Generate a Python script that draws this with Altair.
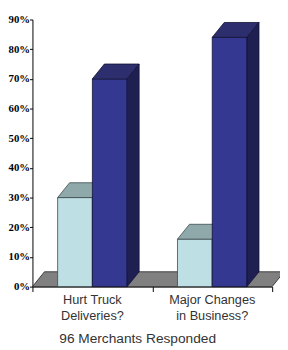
import altair as alt
import pandas as pd

categories = ["Hurt Truck\nDeliveries?", "Major Changes\nin Business?"]
series = ["light", "dark"]
light_values = [30, 16]
dark_values = [70, 84]
y_ticks = [0, 10, 20, 30, 40, 50, 60, 70, 80, 90]

BAR_W = 0.29
DX = 0.1
DY = 5

front, top, side = [], [], []
for i, cat in enumerate(categories):
    center = i + 0.5
    for s, vals in ((0, light_values), (1, dark_values)):
        v = vals[i]
        x0 = center + (s - 1) * BAR_W
        x1 = x0 + BAR_W
        key = f"{i}-{s}"
        ser = series[s]
        front.append(dict(id=key, series=ser, x=x0, x2=x1, y=0, y2=v))
        top.append(dict(id=key, series=ser, y=v, x=x0, x2=x1))
        top.append(dict(id=key, series=ser, y=v + DY, x=x0 + DX, x2=x1 + DX))
        side.append(dict(id=key, series=ser, x=x1, y=0, y2=v))
        side.append(dict(id=key, series=ser, x=x1 + DX, y=DY, y2=v + DY))

front_df = pd.DataFrame(front)
top_df = pd.DataFrame(top)
side_df = pd.DataFrame(side)
floor_df = pd.DataFrame([
    dict(y=0, x=0, x2=len(categories)),
    dict(y=DY, x=DX, x2=len(categories) + DX),
])
label_df = pd.DataFrame({"x": [i + 0.5 for i in range(len(categories))], "label": categories})

xs = alt.Scale(domain=[0, len(categories)], nice=False, zero=False)
ys = alt.Scale(domain=[0, 90], nice=False)

front_col = alt.Scale(domain=series, range=["#bee0e4", "#343890"])
top_col = alt.Scale(domain=series, range=["#8fa9aa", "#2d2e6e"])
side_col = alt.Scale(domain=series, range=["#7c9799", "#1f1f52"])
stroke_col = alt.Scale(domain=series, range=["#3a4a4c", "#111133"])

xaxis = alt.Axis(values=[0, 1, 2], labels=False, title=None, grid=False,
                 domainColor="black", tickColor="black", tickSize=5, domainWidth=1)
yaxis = alt.Axis(values=y_ticks, labelExpr="datum.value + '%'", title=None, grid=False,
                 domainColor="black", tickColor="black", tickSize=3, labelPadding=0,
                 labelOverlap=False, labelFlush=False,
                 labelFont="Liberation Sans Narrow", labelFontWeight="bold",
                 labelFontSize=11, labelColor="black")

X = lambda f, **kw: alt.X(f, scale=xs, axis=xaxis, **kw)
Y = lambda f, **kw: alt.Y(f, scale=ys, axis=yaxis, **kw)

floor = alt.Chart(floor_df).mark_area(orient="horizontal", color="#808080",
                                      stroke="#222222", strokeWidth=0.8).encode(
    y=Y("y:Q"),
    x=X("x:Q", stack=None),
    x2="x2:Q",
)

layers = [floor]
for ser in series:
    f = alt.Chart(front_df[front_df.series == ser]).mark_rect(strokeWidth=0.8).encode(
        x=X("x:Q"), x2="x2:Q",
        y=Y("y:Q"), y2="y2:Q",
        fill=alt.Color("series:N", scale=front_col, legend=None),
        stroke=alt.Stroke("series:N", scale=stroke_col, legend=None),
    )
    t = alt.Chart(top_df[top_df.series == ser]).mark_area(orient="horizontal", strokeWidth=0.8).encode(
        y=Y("y:Q"), x=X("x:Q", stack=None), x2="x2:Q",
        detail="id:N",
        fill=alt.Color("series:N", scale=top_col, legend=None),
        stroke=alt.Stroke("series:N", scale=stroke_col, legend=None),
    )
    sd = alt.Chart(side_df[side_df.series == ser]).mark_area(orient="vertical", strokeWidth=0.8).encode(
        x=X("x:Q"), y=Y("y:Q", stack=None), y2="y2:Q",
        detail="id:N",
        fill=alt.Color("series:N", scale=side_col, legend=None),
        stroke=alt.Stroke("series:N", scale=stroke_col, legend=None),
    )
    layers += [f, t, sd]

labels = alt.Chart(label_df).mark_text(
    font="Liberation Sans", fontSize=13, color="#333333", baseline="top",
    lineBreak="\n", lineHeight=16.5, align="center"
).encode(
    x=X("x:Q"),
    y=alt.value(281),
    text="label:N",
)

title = alt.Chart(pd.DataFrame({"t": ["96 Merchants Responded"]})).mark_text(
    font="Liberation Sans", fontSize=14, color="#333333", baseline="top", align="center"
).encode(
    x=alt.value(107.5),
    y=alt.value(320),
    text="t:N",
)

chart = alt.layer(*layers, labels, title).resolve_scale(
    fill="independent", stroke="independent"
).properties(
    width=245, height=273,
    autosize=alt.AutoSizeParams(type="none"),
    padding={"left": 25, "top": 8, "right": 8, "bottom": 60},
).configure_view(stroke=None)

chart.save("out.html", embed_options={"renderer": "svg", "actions": False})
